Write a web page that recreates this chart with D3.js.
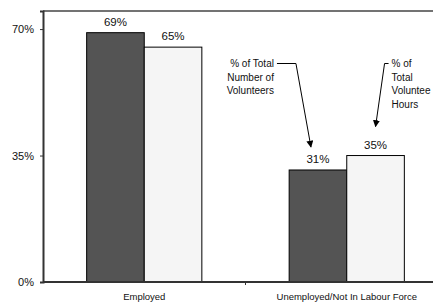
<!DOCTYPE html>
<html>
<head>
<meta charset="utf-8">
<script src="https://cdn.jsdelivr.net/npm/d3@7"></script>
<style>
  body { margin: 0; background: #fff; }
  svg { display: block; font-family: "Liberation Sans", Arial, sans-serif; }
</style>
</head>
<body>
<svg id="chart"></svg>
<script>
var width = 433, height = 303;
var margin = {top: 11, left: 43, bottom: 21};

// data
var categories = ["Employed", "Unemployed/Not In Labour Force"];
var series = ["% of Total Number of Volunteers", "% of Total Volunteer Hours"];
var volunteers = [69, 31];
var hours = [65, 35];
var yTicks = [0, 35, 70];
var noteVolunteers = ["% of Total", "Number of", "Volunteers"];
var noteHours = ["% of", "Total", "Voluntee", "Hours"];

var colors = ["#545454", "#f5f5f5"];

var svg = d3.select("#chart").attr("width", width).attr("height", height);

var x = d3.scaleBand().domain(categories).range([margin.left, 448]).padding(0);
var xs = d3.scaleBand().domain(series).range([0, x.bandwidth()]).paddingInner(0).paddingOuter(0.758);
var y = d3.scaleLinear().domain([0, 75]).range([height - margin.bottom, margin.top]);

var rows = [];
categories.forEach(function (c, i) {
  rows.push({cat: c, s: series[0], v: volunteers[i], i: 0});
  rows.push({cat: c, s: series[1], v: hours[i], i: 1});
});

// top frame line
svg.append("line")
  .attr("x1", margin.left).attr("x2", width)
  .attr("y1", y(75)).attr("y2", y(75))
  .attr("stroke", "#444").attr("stroke-width", 1.5);

// bars
svg.append("g").selectAll("rect").data(rows).enter().append("rect")
  .attr("x", function (d) { return x(d.cat) + xs(d.s); })
  .attr("y", function (d) { return y(d.v); })
  .attr("width", xs.bandwidth())
  .attr("height", function (d) { return y(0) - y(d.v); })
  .attr("fill", function (d) { return colors[d.i]; })
  .attr("stroke", "#000").attr("stroke-width", 1);

// value labels
svg.append("g").selectAll("text").data(rows).enter().append("text")
  .attr("x", function (d) { return x(d.cat) + xs(d.s) + xs.bandwidth() / 2; })
  .attr("y", function (d) { return y(d.v) - 7; })
  .attr("text-anchor", "middle")
  .attr("font-size", "11.5px").attr("fill", "#111")
  .text(function (d) { return d.v + "%"; });

// y axis
var yAxis = d3.axisLeft(y).tickValues(yTicks).tickSize(3).tickPadding(6)
  .tickFormat(function (d) { return d + "%"; });
var gy = svg.append("g").attr("transform", "translate(" + margin.left + ",0)").call(yAxis);
gy.select(".domain").attr("stroke", "#333").attr("stroke-width", 2);
gy.selectAll(".tick line").attr("stroke", "#333");
gy.selectAll(".tick text").attr("font-size", "11px").attr("fill", "#111")
  .attr("font-family", "Liberation Sans, Arial, sans-serif");

// x axis
var gx = svg.append("g").attr("transform", "translate(0," + y(0) + ")");
gx.append("line").attr("x1", margin.left).attr("x2", width)
  .attr("stroke", "#333").attr("stroke-width", 2);
gx.append("line")
  .attr("x1", x(categories[1])).attr("x2", x(categories[1]))
  .attr("y1", 0).attr("y2", 3).attr("stroke", "#333");
gx.selectAll("text.cat").data(categories).enter().append("text")
  .attr("class", "cat")
  .attr("x", function (d) { return x(d) + x.bandwidth() / 2; })
  .attr("y", 18)
  .attr("text-anchor", "middle")
  .attr("font-size", "9.5px").attr("fill", "#111")
  .text(function (d) { return d; });

// annotations
svg.append("defs").append("marker")
  .attr("id", "arrow").attr("viewBox", "0 0 10 10")
  .attr("refX", 9).attr("refY", 5)
  .attr("markerWidth", 7).attr("markerHeight", 7)
  .attr("orient", "auto-start-reverse")
  .append("path").attr("d", "M0,0L10,5L0,10z").attr("fill", "#000");

var c2 = categories[1];
var darkCx = x(c2) + xs(series[0]) + xs.bandwidth() / 2;
var lightCx = x(c2) + xs(series[1]) + xs.bandwidth() / 2;

var n1 = svg.append("text").attr("text-anchor", "end").attr("font-size", "10px").attr("fill", "#111");
noteVolunteers.forEach(function (t, i) {
  n1.append("tspan").attr("x", darkCx - 44).attr("y", 67 + i * 13.5).text(t);
});
svg.append("path")
  .attr("d", "M" + (darkCx - 41) + ",63.5H" + (darkCx - 22) + "L" + (darkCx - 7) + "," + (y(volunteers[1]) - 23))
  .attr("fill", "none").attr("stroke", "#000").attr("stroke-width", 1)
  .attr("marker-end", "url(#arrow)");

var n2 = svg.append("text").attr("font-size", "10px").attr("fill", "#111");
noteHours.forEach(function (t, i) {
  n2.append("tspan").attr("x", lightCx + 16).attr("y", 67 + i * 13.5).text(t);
});
svg.append("path")
  .attr("d", "M" + (lightCx + 13) + ",63.5H" + (lightCx + 9) + "L" + lightCx + "," + (y(hours[1]) - 29))
  .attr("fill", "none").attr("stroke", "#000").attr("stroke-width", 1)
  .attr("marker-end", "url(#arrow)");
</script>
</body>
</html>
